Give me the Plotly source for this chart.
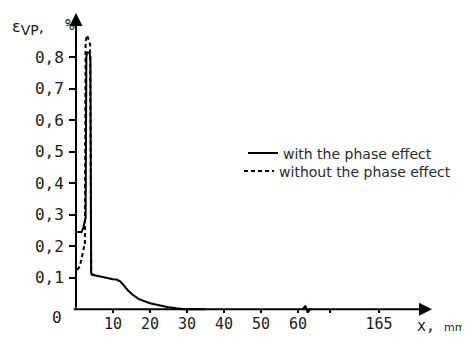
import plotly.graph_objects as go

# ---- data ----
x_with = [0.3, 1.0, 1.5, 2.0, 2.3, 2.5, 2.6, 2.8, 3.0, 3.6, 3.9, 4.1, 4.3, 5.0, 6.0, 8.0, 10.0, 11.0,
          12.0, 13.0, 14.0, 15.4, 17.0, 20.0, 22.0, 24.6, 27.0, 29.5, 35.0]
y_with = [0.245, 0.245, 0.245, 0.26, 0.28, 0.29, 0.29, 0.80, 0.815, 0.815, 0.80, 0.115, 0.11, 0.108,
          0.105, 0.10, 0.095, 0.094, 0.088, 0.075, 0.06, 0.045, 0.032, 0.019, 0.013, 0.007, 0.003,
          0.0, 0.0]

x_without = [0.3, 1.0, 1.5, 1.9, 2.2, 2.4, 2.6, 3.0, 3.4, 3.8, 4.1, 4.3, 5.0]
y_without = [0.125, 0.135, 0.16, 0.19, 0.20, 0.20, 0.85, 0.87, 0.855, 0.84, 0.12, 0.11, 0.108]

# axis break marker on the x axis (between 60 and 165)
break_x = [61.3, 62.0, 62.6, 63.2, 64.0]
break_y = [0.0, 0.011, -0.011, 0.0, 0.0]

y_ticks = [0.1, 0.2, 0.3, 0.4, 0.5, 0.6, 0.7, 0.8]
y_ticktext = ["0,1", "0,2", "0,3", "0,4", "0,5", "0,6", "0,7", "0,8"]
x_ticks = [10, 20, 30, 40, 50, 60, 68.6, 81.9]
x_ticktext = ["10", "20", "30", "40", "50", "60", " ", "165"]

X_MAX = 96.2
Y_MAX = 0.94
Y_MIN = -0.012

mono = "DejaVu Sans Mono"
sans = "DejaVu Sans"
txt = "#1a1a1a"

fig = go.Figure()
fig.add_trace(go.Scatter(x=x_with, y=y_with, mode="lines", name="with the phase effect",
                         line=dict(color="black", width=2), legend="legend"))
fig.add_trace(go.Scatter(x=x_without, y=y_without, mode="lines", name="without the phase effect",
                         line=dict(color="black", width=2, dash="4px,3px"), legend="legend2"))
fig.add_trace(go.Scatter(x=break_x, y=break_y, mode="lines", showlegend=False,
                         line=dict(color="black", width=2), hoverinfo="skip"))

legend_common = dict(xanchor="left", yanchor="top", bgcolor="rgba(0,0,0,0)",
                     font=dict(family=sans, size=14, color="#2a2a2a"), itemwidth=30)

# the page body adds an 8px margin, so the figure is 8px smaller than the window
fig.update_layout(
    width=462, height=334,
    margin=dict(l=68, r=38, t=5, b=29),
    paper_bgcolor="white", plot_bgcolor="white",
    showlegend=True,
    legend=dict(x=0.469, y=0.585, **legend_common),
    legend2=dict(x=0.458, y=0.525, **legend_common),
    xaxis=dict(range=[0, X_MAX], showgrid=False, zeroline=False, showline=False,
               tickmode="array", tickvals=x_ticks, ticktext=x_ticktext,
               ticks="inside", ticklen=4, tickwidth=1.5, tickcolor="black",
               tickfont=dict(family=mono, size=15, color=txt)),
    yaxis=dict(range=[Y_MIN, Y_MAX], showgrid=False, zeroline=False, showline=False,
               tickmode="array", tickvals=y_ticks, ticktext=y_ticktext,
               ticks="outside", ticklen=6, tickwidth=1.5, tickcolor="black",
               ticklabelstandoff=2,
               tickfont=dict(family=mono, size=16, color=txt)),
)

# axes drawn as arrows
fig.add_annotation(x=X_MAX, y=0, ax=-1, ay=0, xref="x", yref="y", axref="x", ayref="y",
                   text="", showarrow=True, arrowhead=2, arrowsize=1.3, arrowwidth=2,
                   arrowcolor="black", standoff=0)
fig.add_annotation(x=0, y=Y_MAX, ax=0, ay=0, xref="x", yref="y", axref="x", ayref="y",
                   text="", showarrow=True, arrowhead=2, arrowsize=1.3, arrowwidth=2,
                   arrowcolor="black", standoff=0)

# labels
fig.add_annotation(x=-0.053, y=-0.015, xref="paper", yref="paper", text="0", showarrow=False,
                   xanchor="center", yanchor="middle", font=dict(family=mono, size=16, color=txt))
fig.add_annotation(x=0.952, y=-0.042, xref="paper", yref="paper",
                   text="x,&nbsp;<span style='font-family:DejaVu Sans;font-size:11px'>mm</span>",
                   showarrow=False, xanchor="left", yanchor="middle",
                   font=dict(family=mono, size=15, color=txt))
fig.add_annotation(x=-0.185, y=0.953, xref="paper", yref="paper",
                   text="ε<sub><span style='font-size:14px'>VP</span></sub>,",
                   showarrow=False, xanchor="left", yanchor="middle",
                   font=dict(family=sans, size=16, color=txt))
fig.add_annotation(x=0.003, y=0.963, xref="paper", yref="paper", text="%",
                   showarrow=False, xanchor="right", yanchor="middle",
                   font=dict(family=mono, size=16, color=txt))

fig.write_html("out.html")
